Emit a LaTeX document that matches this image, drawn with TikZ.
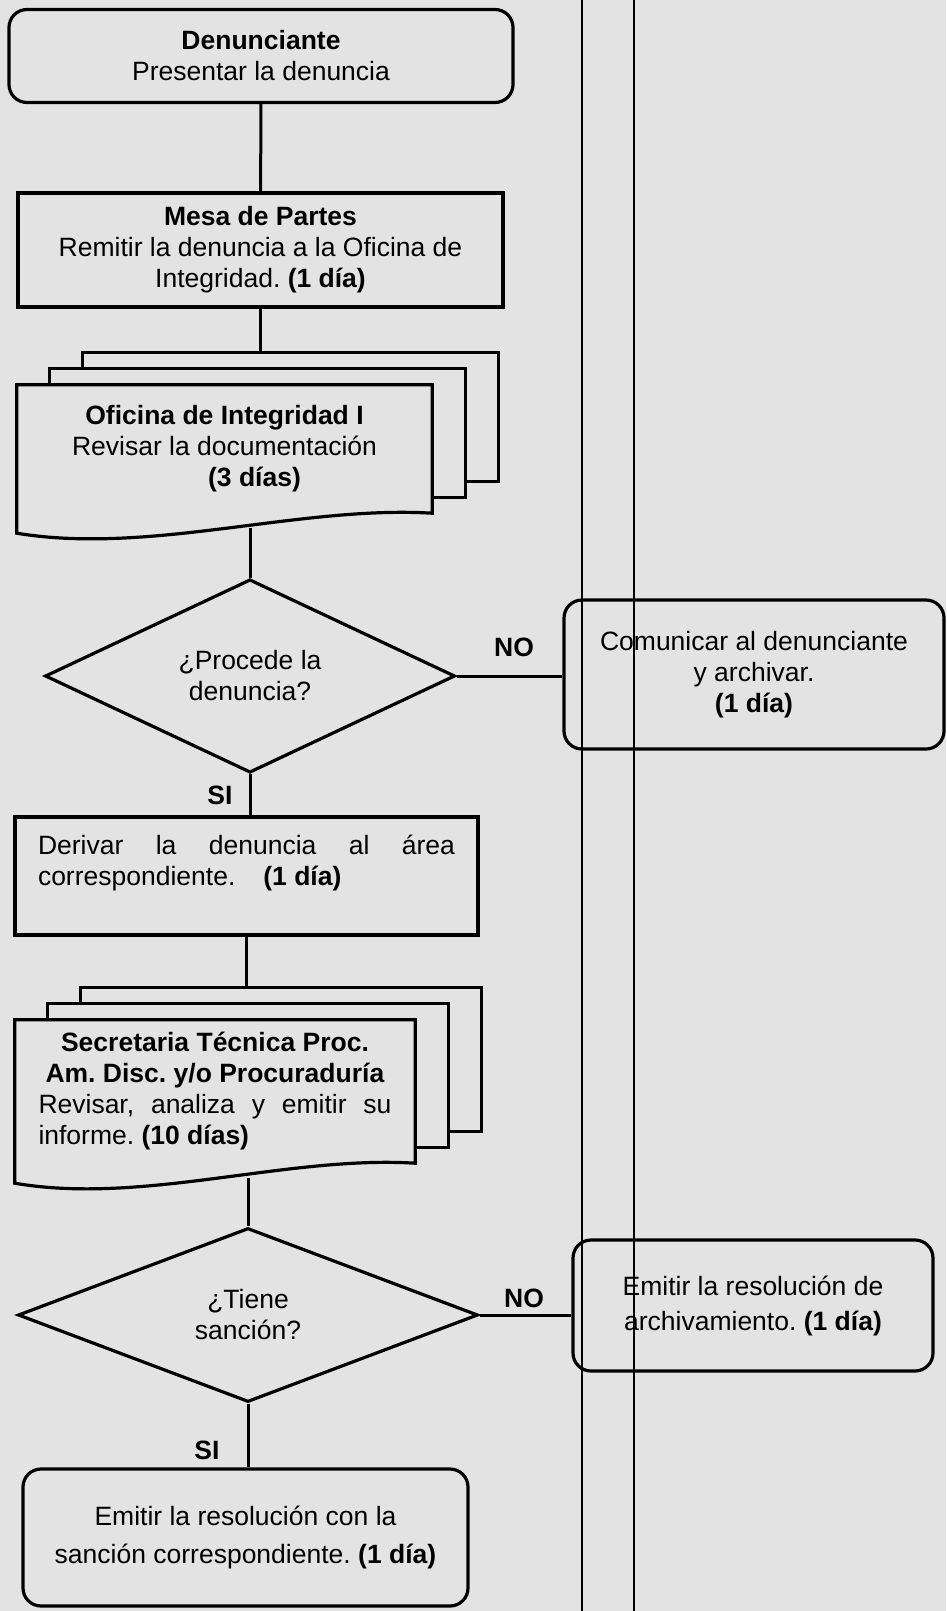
\documentclass[tikz,border=0pt]{standalone}
\usepackage{fontspec}
\setmainfont{Liberation Sans}
\usepackage{tikz}
\usetikzlibrary{shapes.geometric,calc}
\definecolor{fondo}{gray}{0.89}
% pila de hojas detras del nodo #1 (hoja delantera con borde ondulado)
\newcommand{\pila}[1]{%
  \foreach \k in {1,2}
    \draw[pagina] ($(#1.north west)+(33*\k,16-16*\k)$) -- ++(0,-16) -| ($(#1.south east)+(33*\k,-16*\k)$) -- ++(-33,0);
  \draw[pagina] ($(#1.south west)+(0,20)$) -- (#1.north west) -- (#1.north east) -- (#1.south east)
    .. controls ($(#1.south east)!0.32!(#1.south west)+(0,-8)$) and ($(#1.south west)!0.32!(#1.south east)+(0,42)$) .. ($(#1.south west)+(0,20)$) -- cycle;
  \coordinate (#1-tope) at ($(#1.north)+(0,-32)$);
  \coordinate (#1-base) at ($(#1.south)+(0,15)$);
}

\begin{document}
\begin{tikzpicture}[x=1pt,y=-1pt,
    font=\fontsize{26.5}{31}\selectfont,
    execute at begin node={\frenchspacing\spaceskip=0pt\xspaceskip=0pt\relax},
    caja/.style={draw,line width=3.2pt,align=center,inner sep=0pt},
    redonda/.style={caja,rounded corners=18pt},
    decision/.style={diamond,draw,line width=3.2pt,align=center,inner sep=0pt},
    hoja/.style={align=center,inner sep=0pt},
    pagina/.style={line width=3.2pt},
    linea/.style={line width=3pt},
    carril/.style={line width=1.7pt},
    etiqueta/.style={font=\fontsize{26.5}{31}\selectfont\bfseries,inner sep=0pt}]
    \useasboundingbox (0,0) rectangle (946,1611);
    \fill[fondo] (0,0) rectangle (946,1611);

    % Carriles
    \draw[carril] (582,0) -- (582,1611);
    \draw[carril] (634,0) -- (634,1611);

    % Columna principal
    \node[redonda,minimum width=504pt,minimum height=93pt] (den) at (261,56) {\textbf{Denunciante}\\Presentar la denuncia};
    \node[caja,minimum width=485pt,minimum height=114pt] (mesa) at (260.5,250) {\textbf{Mesa de Partes}\\Remitir la denuncia a la Oficina de\\Integridad. \textbf{(1 día)}};
    \node[hoja,minimum width=415pt,minimum height=128pt] (ofi) at (224.5,449) {\textbf{Oficina de Integridad I}\\Revisar la documentación\\\hspace*{60pt}\textbf{(3 días)}};
    \pila{ofi}
    \node[decision,minimum width=410pt,minimum height=187pt] (proc) at (250,676) {¿Procede la\\denuncia?};
    \node[caja,align=left,text width=417pt,minimum width=463pt,minimum height=118pt] (der) at (246.5,876) {\makebox[417pt][s]{Derivar la denuncia al área}\\correspondiente.\hspace{28pt}\textbf{(1 día)}\\\mbox{}};
    \node[hoja,align=left,text width=353pt,minimum width=400pt,minimum height=143pt] (sec) at (215,1091.5) {\makebox[353pt]{\textbf{Secretaria Técnica Proc.}}\\\makebox[353pt]{\textbf{Am. Disc. y/o Procuraduría}}\\\makebox[353pt][s]{Revisar, analiza y emitir su}\\informe. \textbf{(10 días)}};
    \pila{sec}
    \node[decision,minimum width=460pt,minimum height=174pt] (tiene) at (248,1315) {¿Tiene\\sanción?};
    \node[redonda,minimum width=445pt,minimum height=137pt,font=\fontsize{26.5}{38}\selectfont] (fin) at (245.5,1537.5) {Emitir la resolución con la\\sanción correspondiente. \textbf{(1 día)}};

    % Salidas por NO
    \node[redonda,minimum width=380pt,minimum height=149pt] (com) at (754,674.5) {Comunicar al denunciante\\y archivar.\\\textbf{(1 día)}};
    \node[redonda,minimum width=360pt,minimum height=131pt,font=\fontsize{26.5}{35}\selectfont] (arch) at (753,1305.5) {Emitir la resolución de\\archivamiento. \textbf{(1 día)}};

    % Etiquetas
    \node[etiqueta] (no1) at (514,647) {NO};
    \node[etiqueta] (si1) at (220,795) {SI};
    \node[etiqueta] (no2) at (524,1298) {NO};
    \node[etiqueta] (si2) at (207,1450) {SI};

    % Conectores
    \draw[linea] (den) -- (mesa);
    \draw[linea] (mesa.south) -- (mesa.south |- ofi-tope);
    \draw[linea] (ofi-base -| proc.north) -- (proc.north);
    \draw[linea] (proc.east) -- (proc.east -| com.west);
    \draw[linea] (proc.south) -- (proc.south |- der.north);
    \draw[linea] (der.south) -- (der.south |- sec-tope);
    \draw[linea] (sec-base -| tiene.north) -- (tiene.north);
    \draw[linea] (tiene.east) -- (tiene.east -| arch.west);
    \draw[linea] (tiene.south) -- (tiene.south |- fin.north);
\end{tikzpicture}
\end{document}
